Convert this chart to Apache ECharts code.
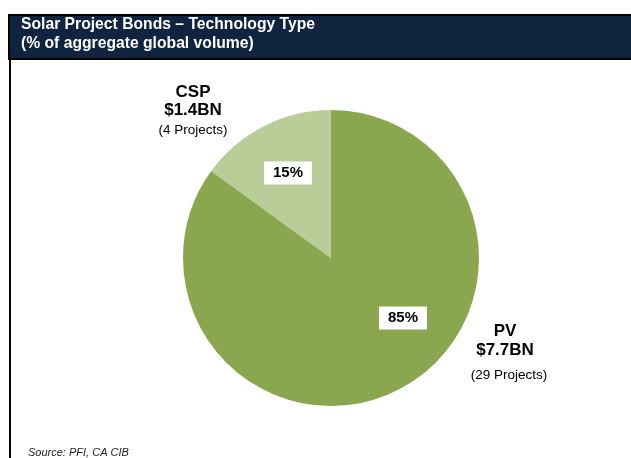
<!DOCTYPE html>
<html>
<head>
<meta charset="utf-8">
<script src="https://cdn.jsdelivr.net/npm/echarts@6/dist/echarts.min.js"></script>
<style>
html,body{margin:0;padding:0;background:#fff;}
#chart{width:631px;height:458px;}
</style>
</head>
<body>
<div id="chart"></div>
<script>
const categories = ['PV', 'CSP'];
const shares = [85, 15];
const amounts = ['$7.7BN', '$1.4BN'];
const projects = [29, 4];
const titleLines = ['Solar Project Bonds \u2013 Technology Type', '(% of aggregate global volume)'];
const sourceText = 'Source: PFI, CA CIB';

const colors = ['#8aa64f', '#b8cd98'];
const font = '"Liberation Sans", Arial, sans-serif';

const chart = echarts.init(document.getElementById('chart'), null, {renderer: 'canvas'});

// label anchor positions (pixels) for percentage boxes and outer annotations
const pctPos = [[403, 318], [288, 173]];
const outerPos = [
  {x: 505, y: [331, 350, 375], dx3: 4},
  {x: 193, y: [92, 110, 130], dx3: 0}
];

const outerGraphics = [];
categories.forEach((c, i) => {
  const p = outerPos[i];
  outerGraphics.push({type: 'text', x: p.x, y: p.y[0], style: {text: c, font: 'bold 17px ' + font, fill: '#000', textAlign: 'center', textVerticalAlign: 'middle'}});
  outerGraphics.push({type: 'text', x: p.x, y: p.y[1], style: {text: amounts[i], font: 'bold 17px ' + font, fill: '#000', textAlign: 'center', textVerticalAlign: 'middle'}});
  outerGraphics.push({type: 'text', x: p.x + p.dx3, y: p.y[2], style: {text: '(' + projects[i] + ' Projects)', font: '13.5px ' + font, fill: '#000', textAlign: 'center', textVerticalAlign: 'middle'}});
});

const option = {
  animation: false,
  backgroundColor: '#ffffff',
  graphic: [
    {type: 'rect', shape: {x: 9, y: 15, width: 630, height: 44}, style: {fill: '#10233f', stroke: '#000', lineWidth: 2}},
    {type: 'line', shape: {x1: 10, y1: 58, x2: 10, y2: 458}, style: {stroke: '#000', lineWidth: 2}},
    {type: 'text', x: 21, y: 25, style: {text: titleLines[0], font: 'bold 15.7px ' + font, fill: '#fff', textVerticalAlign: 'middle'}},
    {type: 'text', x: 21, y: 44, style: {text: titleLines[1], font: 'bold 15.7px ' + font, fill: '#fff', textVerticalAlign: 'middle'}},
    {type: 'text', x: 28, y: 453, style: {text: sourceText, font: 'italic 11px ' + font, fill: '#222', textVerticalAlign: 'middle'}}
  ].concat(outerGraphics),
  series: [{
    type: 'pie',
    center: [331, 258],
    radius: 148,
    startAngle: 90,
    clockwise: true,
    avoidLabelOverlap: false,
    silent: true,
    data: categories.map((c, i) => ({name: c, value: shares[i], itemStyle: {color: colors[i]}})),
    itemStyle: {borderWidth: 0},
    label: {
      show: true,
      position: 'inside',
      formatter: '{c}%',
      fontFamily: font,
      fontWeight: 'bold',
      fontSize: 15,
      color: '#000',
      backgroundColor: '#fff',
      padding: [4, 9, 4, 9],
      lineHeight: 15
    },
    labelLine: {show: false},
    labelLayout: function (params) {
      const p = pctPos[params.dataIndex];
      return {x: p[0], y: p[1], align: 'center', verticalAlign: 'middle'};
    }
  }]
};
chart.setOption(option);
</script>
</body>
</html>
